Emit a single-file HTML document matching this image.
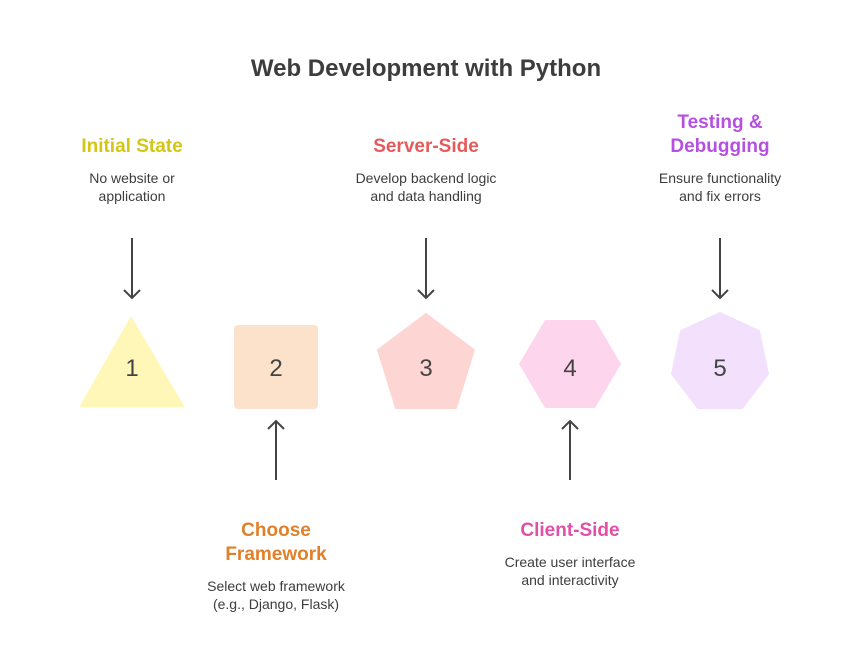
<!DOCTYPE html>
<html><head><meta charset="utf-8"><style>body{margin:0;background:#fff}svg{display:block}</style></head><body>
<svg width="852" height="660" viewBox="0 0 852 660" xmlns="http://www.w3.org/2000/svg" font-family="Liberation Sans, sans-serif">
<defs><marker id="a" markerWidth="18" markerHeight="18" refX="9" refY="9" orient="auto" markerUnits="userSpaceOnUse"><path d="M1,1 L9,9 L1,17" fill="none" stroke="#444" stroke-width="2"/></marker></defs>
<text x="426" y="76" text-anchor="middle" font-size="24" font-weight="bold" fill="#3d3d3d">Web Development with Python</text>
<g font-weight="bold" font-size="19" text-anchor="middle">
<text x="132" y="152" fill="#d4c614">Initial State</text>
<text x="426" y="152" fill="#e55a5a">Server-Side</text>
<text x="720" y="128" fill="#b550e0">Testing &amp;</text>
<text x="720" y="152" fill="#b550e0">Debugging</text>
<text x="276" y="536" fill="#e0802a">Choose</text>
<text x="276" y="560" fill="#e0802a">Framework</text>
<text x="570" y="536" fill="#e050a8">Client-Side</text>
</g>
<g font-size="14" text-anchor="middle" fill="#3d3d3d">
<text x="132" y="183">No website or</text><text x="132" y="201">application</text>
<text x="426" y="183">Develop backend logic</text><text x="426" y="201">and data handling</text>
<text x="720" y="183">Ensure functionality</text><text x="720" y="201">and fix errors</text>
<text x="276" y="591">Select web framework</text><text x="276" y="609">(e.g., Django, Flask)</text>
<text x="570" y="567">Create user interface</text><text x="570" y="585">and interactivity</text>
</g>
<g stroke="#444" stroke-width="2" fill="none">
<line x1="132" y1="238" x2="132" y2="298" marker-end="url(#a)"/>
<line x1="426" y1="238" x2="426" y2="298" marker-end="url(#a)"/>
<line x1="720" y1="238" x2="720" y2="298" marker-end="url(#a)"/>
<line x1="276" y1="480" x2="276" y2="421" marker-end="url(#a)"/>
<line x1="570" y1="480" x2="570" y2="421" marker-end="url(#a)"/>
</g>
<polygon points="131,318 183,406 81,406" fill="#fef7b7" stroke="#fef7b7" stroke-width="2" stroke-linejoin="round"/>
<rect x="234" y="325" width="84" height="84" rx="4" fill="#fde2cb"/>
<polygon points="426,314 474,350 456,408 396,408 378,350" fill="#fdd6d4" stroke="#fdd6d4" stroke-width="2" stroke-linejoin="round"/>
<polygon points="519,364 545,320 595,320 621,364 595,408 545,408" fill="#fdd5ec"/>
<polygon points="720,313 759,331 768,374 742,408 698,408 672,374 681,331" fill="#f2e0fc" stroke="#f2e0fc" stroke-width="2" stroke-linejoin="round"/>
<g font-size="24" text-anchor="middle" fill="#444">
<text x="132" y="376">1</text><text x="276" y="376">2</text><text x="426" y="376">3</text><text x="570" y="376">4</text><text x="720" y="376">5</text>
</g>
</svg>
</body></html>
